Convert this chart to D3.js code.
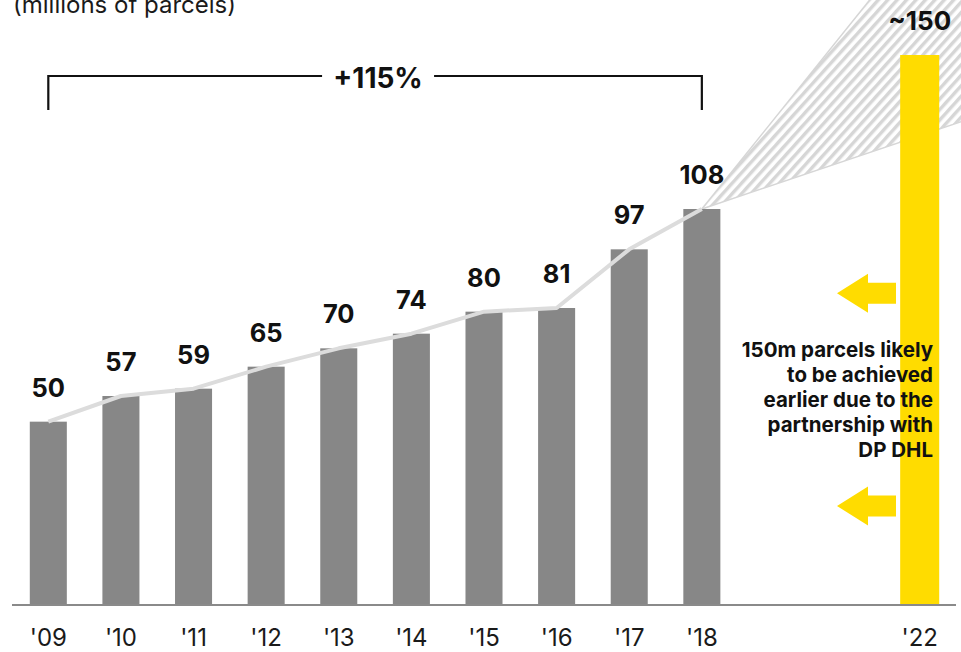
<!DOCTYPE html>
<html>
<head>
<meta charset="utf-8">
<script src="https://cdn.jsdelivr.net/npm/d3@7"></script>
<style>
  html, body { margin: 0; padding: 0; background: #fff; }
  svg { display: block; font-family: Inter, "Noto Sans", sans-serif; }
</style>
</head>
<body>
<svg id="chart" width="961" height="652"></svg>
<script>
// ---- data ----
const years = ["'09", "'10", "'11", "'12", "'13", "'14", "'15", "'16", "'17", "'18"];
const parcels = [50, 57, 59, 65, 70, 74, 80, 81, 97, 108];
const targetYear = "'22";
const targetValue = 150;
const targetLabel = "~150";
const gapSlots = ["gap1", "gap2"];
const coneEnd = [182, 128];           // upper and lower edge of projection cone at '22
const growthLabel = "+115%";
const titleText = "(millions of parcels)";
const noteLines = ["150m parcels likely", "to be achieved", "earlier due to the", "partnership with", "DP DHL"];
const arrowLevels = [85, 27];

// ---- layout ----
const W = 961, H = 652;
const baseY = 605;
const svg = d3.select("#chart");

const x = d3.scaleBand()
  .domain([...years, ...gapSlots, targetYear])
  .range([12, 956])
  .paddingInner(0.49)
  .paddingOuter(0.245);
const y = d3.scaleLinear().domain([0, 150]).range([baseY, 55]);
const cx = d => x(d) + x.bandwidth() / 2;

// hatch pattern
const defs = svg.append("defs");
const pat = defs.append("pattern")
  .attr("id", "hatch").attr("patternUnits", "userSpaceOnUse")
  .attr("width", 7).attr("height", 7)
  .attr("patternTransform", "rotate(42)");
pat.append("rect").attr("width", 7).attr("height", 7).attr("fill", "#fff");
pat.append("rect").attr("width", 3.4).attr("height", 7).attr("fill", "#d6d6d6");

// projection cone
const apex = [cx("'18"), y(parcels[parcels.length - 1])];
const ends = coneEnd.map(v => {
  const p = [cx(targetYear), y(v)];
  const t = 1.6;
  return [apex[0] + (p[0] - apex[0]) * t, apex[1] + (p[1] - apex[1]) * t];
});
svg.append("path")
  .attr("d", `M${apex}L${ends[0]}L${ends[1]}Z`)
  .attr("fill", "url(#hatch)");
ends.forEach(e => {
  svg.append("line")
    .attr("x1", apex[0]).attr("y1", apex[1])
    .attr("x2", e[0]).attr("y2", e[1])
    .attr("stroke", "#d6d6d6").attr("stroke-width", 1.5);
});

// title
svg.append("text")
  .attr("x", 13).attr("y", 13)
  .attr("font-size", 24).attr("fill", "#1a1a1a")
  .text(titleText);

// bars
svg.selectAll("rect.bar")
  .data(years.map((d, i) => ({ year: d, v: parcels[i] })))
  .join("rect").attr("class", "bar")
  .attr("x", d => x(d.year)).attr("width", x.bandwidth())
  .attr("y", d => y(d.v)).attr("height", d => baseY - y(d.v))
  .attr("fill", "#878787");

// target bar
svg.append("rect")
  .attr("x", x(targetYear) - 1).attr("width", x.bandwidth() + 2)
  .attr("y", y(targetValue)).attr("height", baseY - y(targetValue))
  .attr("fill", "#FFDC00");

// trend line
svg.append("path")
  .datum(years.map((d, i) => [cx(d), y(parcels[i])]))
  .attr("d", d3.line())
  .attr("fill", "none").attr("stroke", "#dcdcdc").attr("stroke-width", 4)
  .attr("stroke-linejoin", "round");

// value labels
svg.selectAll("text.val")
  .data(years.map((d, i) => ({ year: d, v: parcels[i] })))
  .join("text").attr("class", "val")
  .attr("x", d => cx(d.year)).attr("y", d => y(d.v) - 25)
  .attr("text-anchor", "middle").attr("font-size", 25.5).attr("font-weight", 700)
  .attr("fill", "#111")
  .text(d => d.v);
svg.append("text")
  .attr("x", cx(targetYear)).attr("y", y(targetValue) - 25)
  .attr("text-anchor", "middle").attr("font-size", 26).attr("font-weight", 700)
  .attr("fill", "#111")
  .text(targetLabel);

// baseline + axis labels
svg.append("line")
  .attr("x1", 12).attr("x2", 956).attr("y1", baseY).attr("y2", baseY)
  .attr("stroke", "#8a8a8a").attr("stroke-width", 2);
const axis = d3.axisBottom(x)
  .tickValues([...years, targetYear])
  .tickSize(0).tickPadding(0);
const axG = svg.append("g").attr("transform", `translate(0,${baseY})`).call(axis);
axG.select(".domain").remove();
axG.selectAll("text")
  .attr("y", 41).attr("dy", null)
  .attr("font-size", 24).attr("font-family", "Inter, sans-serif")
  .attr("fill", "#1a1a1a");

// growth bracket
const bx0 = cx(years[0]), bx1 = cx("'18"), bTop = 76, bBot = 110;
const bMid = (bx0 + bx1) / 2 + 3;
svg.append("path")
  .attr("d", `M${bx0},${bBot}V${bTop}H${bMid - 56}M${bMid + 56},${bTop}H${bx1}V${bBot}`)
  .attr("fill", "none").attr("stroke", "#111").attr("stroke-width", 2.2);
svg.append("text")
  .attr("x", bMid).attr("y", 88)
  .attr("text-anchor", "middle").attr("font-size", 28).attr("font-weight", 700)
  .attr("fill", "#111")
  .text(growthLabel);

// arrows
const arrowTip = 837, arrowNeck = 868, arrowEnd = 896;
arrowLevels.forEach(v => {
  const c = y(v);
  svg.append("path")
    .attr("d", `M${arrowTip},${c}L${arrowNeck},${c - 19.5}V${c - 10.5}H${arrowEnd}V${c + 10.5}H${arrowNeck}V${c + 19.5}Z`)
    .attr("fill", "#FFDC00");
});

// note
const note = svg.append("text")
  .attr("text-anchor", "end").attr("font-size", 20.5).attr("font-weight", 700)
  .attr("fill", "#111");
noteLines.forEach((t, i) => {
  note.append("tspan").attr("x", 933).attr("y", 357 + i * 25).text(t);
});
</script>
</body>
</html>
